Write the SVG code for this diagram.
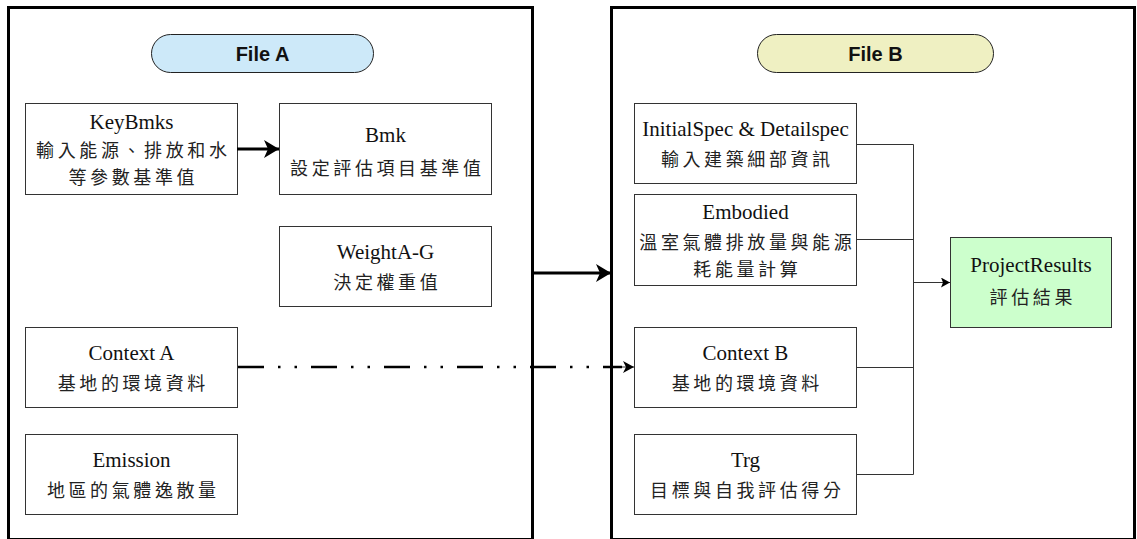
<svg xmlns="http://www.w3.org/2000/svg" width="1137" height="539" viewBox="0 0 1137 539">
  <style>
    .frame { fill: none; stroke: #000; stroke-width: 3; }
    .pill { stroke: #222; stroke-width: 1; }
    .pill-text { font-family: "Liberation Sans", Arial, sans-serif; font-weight: bold; font-size: 20px; fill: #111; text-anchor: middle; }
    .box { fill: #fff; stroke: #333; stroke-width: 1; }
    .result { fill: #ccffcc; stroke: #333; stroke-width: 1; }
    .en { font-family: "Liberation Serif", "Times New Roman", serif; font-size: 21px; fill: #111; text-anchor: middle; }
    .zh { font-family: "Noto Sans CJK TC", "Noto Sans CJK SC", sans-serif; font-size: 18px; letter-spacing: 3.6px; fill: #222; text-anchor: middle; }
    .bus { fill: none; stroke: #333; stroke-width: 1; }
    .thick { fill: none; stroke: #000; stroke-width: 3; }
    .dashdot { fill: none; stroke: #000; stroke-width: 2.5; stroke-dasharray: 26 14 2.5 14 2.5 14; }
  </style>
  <defs>
    <marker id="headBig" markerUnits="userSpaceOnUse" markerWidth="16" markerHeight="18" refX="15" refY="9" orient="auto">
      <path d="M0,0 L15,9 L0,18 L4,9 Z" fill="#000"/>
    </marker>
    <marker id="headMid" markerUnits="userSpaceOnUse" markerWidth="12" markerHeight="12" refX="11" refY="6" orient="auto">
      <path d="M0,0 L11,6 L0,12 L3,6 Z" fill="#000"/>
    </marker>
    <marker id="headSmall" markerUnits="userSpaceOnUse" markerWidth="10" markerHeight="10" refX="9" refY="5" orient="auto">
      <path d="M0,0 L9,5 L0,10 L2,5 Z" fill="#000"/>
    </marker>
  </defs>

  <rect width="1137" height="539" fill="#fff"/>

  <!-- two file frames -->
  <g id="fileA-frame">
    <rect class="frame" x="8.5" y="7.5" width="524" height="532"/>
    <rect class="pill" x="151.5" y="34.5" width="222" height="38" rx="19" fill="#cde9f9"/>
    <text class="pill-text" x="262.5" y="61">File A</text>
  </g>
  <g id="fileB-frame">
    <rect class="frame" x="611.5" y="7.5" width="523" height="532"/>
    <rect class="pill" x="757.5" y="34.5" width="236" height="38" rx="19" fill="#eff0c2"/>
    <text class="pill-text" x="875.5" y="61">File B</text>
  </g>

  <!-- File A nodes -->
  <g id="keybmks">
    <rect class="box" x="25.5" y="103.5" width="212" height="91"/>
    <text class="en" x="131.5" y="129">KeyBmks</text>
    <text class="zh" x="133.3" y="157">輸入能源、排放和水</text>
    <text class="zh" x="133.3" y="184">等參數基準值</text>
  </g>
  <g id="bmk">
    <rect class="box" x="279.5" y="103.5" width="212" height="91"/>
    <text class="en" x="385.5" y="142">Bmk</text>
    <text class="zh" x="387.3" y="175">設定評估項目基準值</text>
  </g>
  <g id="weight">
    <rect class="box" x="279.5" y="226.5" width="212" height="80"/>
    <text class="en" x="385.5" y="259">WeightA-G</text>
    <text class="zh" x="387.3" y="289">決定權重值</text>
  </g>
  <g id="contextA">
    <rect class="box" x="25.5" y="327.5" width="212" height="80"/>
    <text class="en" x="131.5" y="360">Context A</text>
    <text class="zh" x="133.3" y="390">基地的環境資料</text>
  </g>
  <g id="emission">
    <rect class="box" x="25.5" y="434.5" width="212" height="80"/>
    <text class="en" x="131.5" y="467">Emission</text>
    <text class="zh" x="133.3" y="497">地區的氣體逸散量</text>
  </g>

  <!-- File B nodes -->
  <g id="spec">
    <rect class="box" x="634.5" y="103.5" width="222" height="80"/>
    <text class="en" x="745.5" y="136">InitialSpec &amp; Detailspec</text>
    <text class="zh" x="747.3" y="166">輸入建築細部資訊</text>
  </g>
  <g id="embodied">
    <rect class="box" x="634.5" y="194.5" width="222" height="91"/>
    <text class="en" x="745.5" y="219">Embodied</text>
    <text class="zh" x="747.3" y="249">溫室氣體排放量與能源</text>
    <text class="zh" x="747.3" y="276">耗能量計算</text>
  </g>
  <g id="contextB">
    <rect class="box" x="634.5" y="327.5" width="222" height="80"/>
    <text class="en" x="745.5" y="360">Context B</text>
    <text class="zh" x="747.3" y="390">基地的環境資料</text>
  </g>
  <g id="trg">
    <rect class="box" x="634.5" y="434.5" width="222" height="80"/>
    <text class="en" x="745.5" y="467">Trg</text>
    <text class="zh" x="747.3" y="497">目標與自我評估得分</text>
  </g>
  <g id="results">
    <rect class="result" x="950.5" y="237.5" width="161" height="90"/>
    <text class="en" x="1031" y="272">ProjectResults</text>
    <text class="zh" x="1032.8" y="304">評估結果</text>
  </g>

  <!-- connectors -->
  <g id="connectors">
    <path class="thick" d="M237,149 H279" marker-end="url(#headBig)"/>
    <path class="thick" d="M533,273 H611" marker-end="url(#headBig)"/>
    <path class="dashdot" d="M238,367 H622"/>
    <path class="bus" d="M622,367 H634" marker-end="url(#headMid)" stroke="#000" stroke-width="2"/>
    <path class="bus" d="M856,144.5 H913.5 V474.5 H856 M856,239.5 H913.5 M856,367.5 H913.5"/>
    <path class="bus" d="M913.5,282.5 H950" stroke="#000" marker-end="url(#headSmall)"/>
  </g>
</svg>
